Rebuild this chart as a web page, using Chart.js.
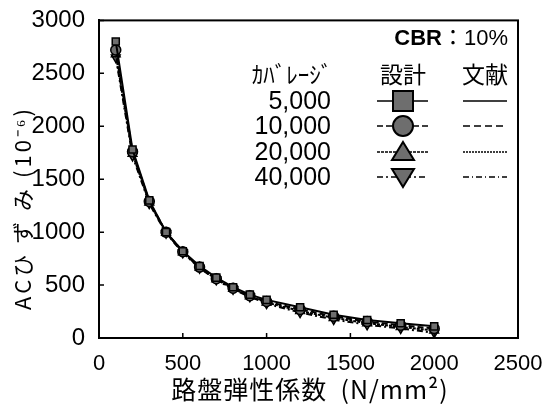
<!DOCTYPE html>
<html>
<head>
<meta charset="utf-8">
<script src="https://cdn.jsdelivr.net/npm/chart.js@4/dist/chart.umd.min.js"></script>
<style>
  body { margin: 0; background: #fff; }
</style>
</head>
<body>
<canvas id="chart-strain" width="551" height="418"></canvas>
<script>
// roadbed elastic modulus (N/mm2)
var moduli = [100, 200, 300, 400, 500, 600, 700, 800, 900, 1000, 1200, 1400, 1600, 1800, 2000];

// AC strain (x10^-6), design values per coverage
var strain5000  = [2800, 1780, 1300, 1000, 820, 680, 570, 480, 410, 360, 290, 220, 170, 140, 110];
var strain10000 = [2720, 1760, 1290, 1000, 815, 670, 560, 470, 400, 345, 270, 205, 155, 120, 90];
var strain20000 = [2680, 1740, 1280, 995, 810, 665, 555, 465, 395, 335, 255, 190, 140, 105, 70];
var strain40000 = [2650, 1720, 1270, 990, 805, 660, 550, 460, 390, 325, 240, 175, 125, 90, 50];

var coverages = ['5,000', '10,000', '20,000', '40,000'];
var xTicks = [0, 500, 1000, 1500, 2000, 2500];
var yTicks = [0, 500, 1000, 1500, 2000, 2500, 3000];

var seriesValues = [strain5000, strain10000, strain20000, strain40000];
var markers = [
    { style: 'rect', rotation: 0 },
    { style: 'circle', rotation: 0 },
    { style: 'triangle', rotation: 0 },
    { style: 'triangle', rotation: 180 }
];
var designDash = [[], [6, 3], [3, 1], [6, 3, 2, 3]];
var litDash = [[], [7, 4], [2, 1], [6, 3, 1, 3]];
var markerFill = '#6e6e6e';

var datasets = [];
for (let i = 0; i < seriesValues.length; i++) {
    datasets.push({
        label: coverages[i],
        data: moduli.map(function (m, j) { return { x: m, y: seriesValues[i][j] }; }),
        showLine: true,
        borderColor: '#000',
        borderWidth: 2,
        borderDash: designDash[i],
        pointStyle: markers[i].style,
        rotation: markers[i].rotation,
        pointRadius: 5,
        pointBackgroundColor: markerFill,
        pointBorderColor: '#000',
        pointBorderWidth: 1.5,
        tension: 0
    });
}

function drawMarker(ctx, kind, rot, x, y, r) {
    ctx.save();
    ctx.setLineDash([]);
    ctx.fillStyle = markerFill;
    ctx.strokeStyle = '#000';
    ctx.lineWidth = 2;
    ctx.beginPath();
    if (kind === 'rect') {
        ctx.rect(x - r, y - r, 2 * r, 2 * r);
    } else if (kind === 'circle') {
        ctx.arc(x, y, r, 0, Math.PI * 2);
    } else {
        var s = rot ? -1 : 1;
        ctx.moveTo(x, y - s * r);
        ctx.lineTo(x + r * 1.1, y + s * r * 0.8);
        ctx.lineTo(x - r * 1.1, y + s * r * 0.8);
        ctx.closePath();
    }
    ctx.fill();
    ctx.stroke();
    ctx.restore();
}

// frame, inward ticks, axis titles and the legend table
var decorations = {
    id: 'decorations',
    afterDraw: function (chart) {
        var ctx = chart.ctx, area = chart.chartArea;
        var xs = chart.scales.x, ys = chart.scales.y;
        ctx.save();
        ctx.strokeStyle = '#000';
        ctx.lineWidth = 2;
        ctx.strokeRect(area.left, area.top, area.right - area.left, area.bottom - area.top);

        ctx.lineWidth = 1.5;
        ctx.beginPath();
        xs.ticks.forEach(function (t) {
            var px = xs.getPixelForValue(t.value);
            ctx.moveTo(px, area.bottom);
            ctx.lineTo(px, area.bottom - 5);
        });
        ys.ticks.forEach(function (t) {
            var py = ys.getPixelForValue(t.value);
            ctx.moveTo(area.left, py);
            ctx.lineTo(area.left + 5, py);
        });
        ctx.stroke();

        ctx.fillStyle = '#000';
        ctx.textBaseline = 'middle';
        ctx.textAlign = 'center';
        ctx.font = '25px "Noto Sans CJK JP"';
        ctx.letterSpacing = '1px';
        ctx.fillText('路盤弾性係数  (N/mm²)', 310, 389);
        ctx.letterSpacing = '0px';

        ctx.save();
        ctx.translate(23, 208);
        ctx.rotate(-Math.PI / 2);
        ctx.font = '22px "Noto Sans CJK JP"';
        ctx.letterSpacing = '3px';
        ctx.fillText('ACひ ず み (10⁻⁶)', 0, 0);
        ctx.restore();

        // legend table
        ctx.textAlign = 'left';
        ctx.font = 'bold 22px "Liberation Sans"';
        var w1 = ctx.measureText('CBR').width;
        ctx.font = '22px "Liberation Sans", "Noto Sans CJK JP"';
        var w2 = ctx.measureText('：10%').width;
        var cx = 508 - w1 - w2;
        ctx.font = 'bold 22px "Liberation Sans"';
        ctx.fillText('CBR', cx, 39);
        ctx.font = '22px "Liberation Sans", "Noto Sans CJK JP"';
        ctx.fillText('：10%', cx + w1, 39);

        ctx.font = '23px "Noto Sans CJK JP"';
        ctx.textAlign = 'center';
        ctx.fillText('ｶﾊﾞﾚｰｼﾞ', 292, 74);
        ctx.fillText('設計', 403, 74);
        ctx.fillText('文献', 485, 74);

        var rowY = [101, 126, 152, 177];
        for (let i = 0; i < coverages.length; i++) {
            var y = rowY[i];
            ctx.textAlign = 'right';
            ctx.font = '25px "Liberation Sans"';
            ctx.fillText(coverages[i], 331, y + 1);

            ctx.lineWidth = 1.5;
            ctx.setLineDash(designDash[i]);
            ctx.beginPath();
            ctx.moveTo(377, y);
            ctx.lineTo(428, y);
            ctx.stroke();
            drawMarker(ctx, markers[i].style, markers[i].rotation, 403, y, 10);

            ctx.lineWidth = 1.5;
            ctx.setLineDash(litDash[i]);
            ctx.beginPath();
            ctx.moveTo(463, y);
            ctx.lineTo(507, y);
            ctx.stroke();
            ctx.setLineDash([]);
        }
        ctx.restore();
    }
};

function plainTick(v) { return String(v); }

var ctx = document.getElementById('chart-strain');
var strainChart = new Chart(ctx, {
    type: 'scatter',
    data: { datasets: datasets },
    options: {
        responsive: false,
        animation: false,
        devicePixelRatio: 1,
        layout: { padding: { top: 18, right: 33, left: 0, bottom: 0 } },
        plugins: {
            legend: { display: false },
            tooltip: { enabled: false }
        },
        scales: {
            x: {
                type: 'linear',
                min: 0,
                max: 2500,
                afterBuildTicks: function (s) { s.ticks = xTicks.map(function (v) { return { value: v }; }); },
                afterFit: function (s) { s.height = 80; },
                grid: { display: false },
                border: { display: true, color: '#000', width: 2 },
                ticks: { color: '#000', padding: 5, callback: plainTick, font: { family: 'Liberation Sans', size: 22 } }
            },
            y: {
                type: 'linear',
                min: 0,
                max: 3000,
                afterBuildTicks: function (s) { s.ticks = yTicks.map(function (v) { return { value: v }; }); },
                afterFit: function (s) { s.width = 99; },
                grid: { display: false },
                border: { display: true, color: '#000', width: 2 },
                ticks: { color: '#000', padding: 6, callback: plainTick, font: { family: 'Liberation Sans', size: 24 } }
            }
        }
    },
    plugins: [decorations]
});
</script>
</body>
</html>
